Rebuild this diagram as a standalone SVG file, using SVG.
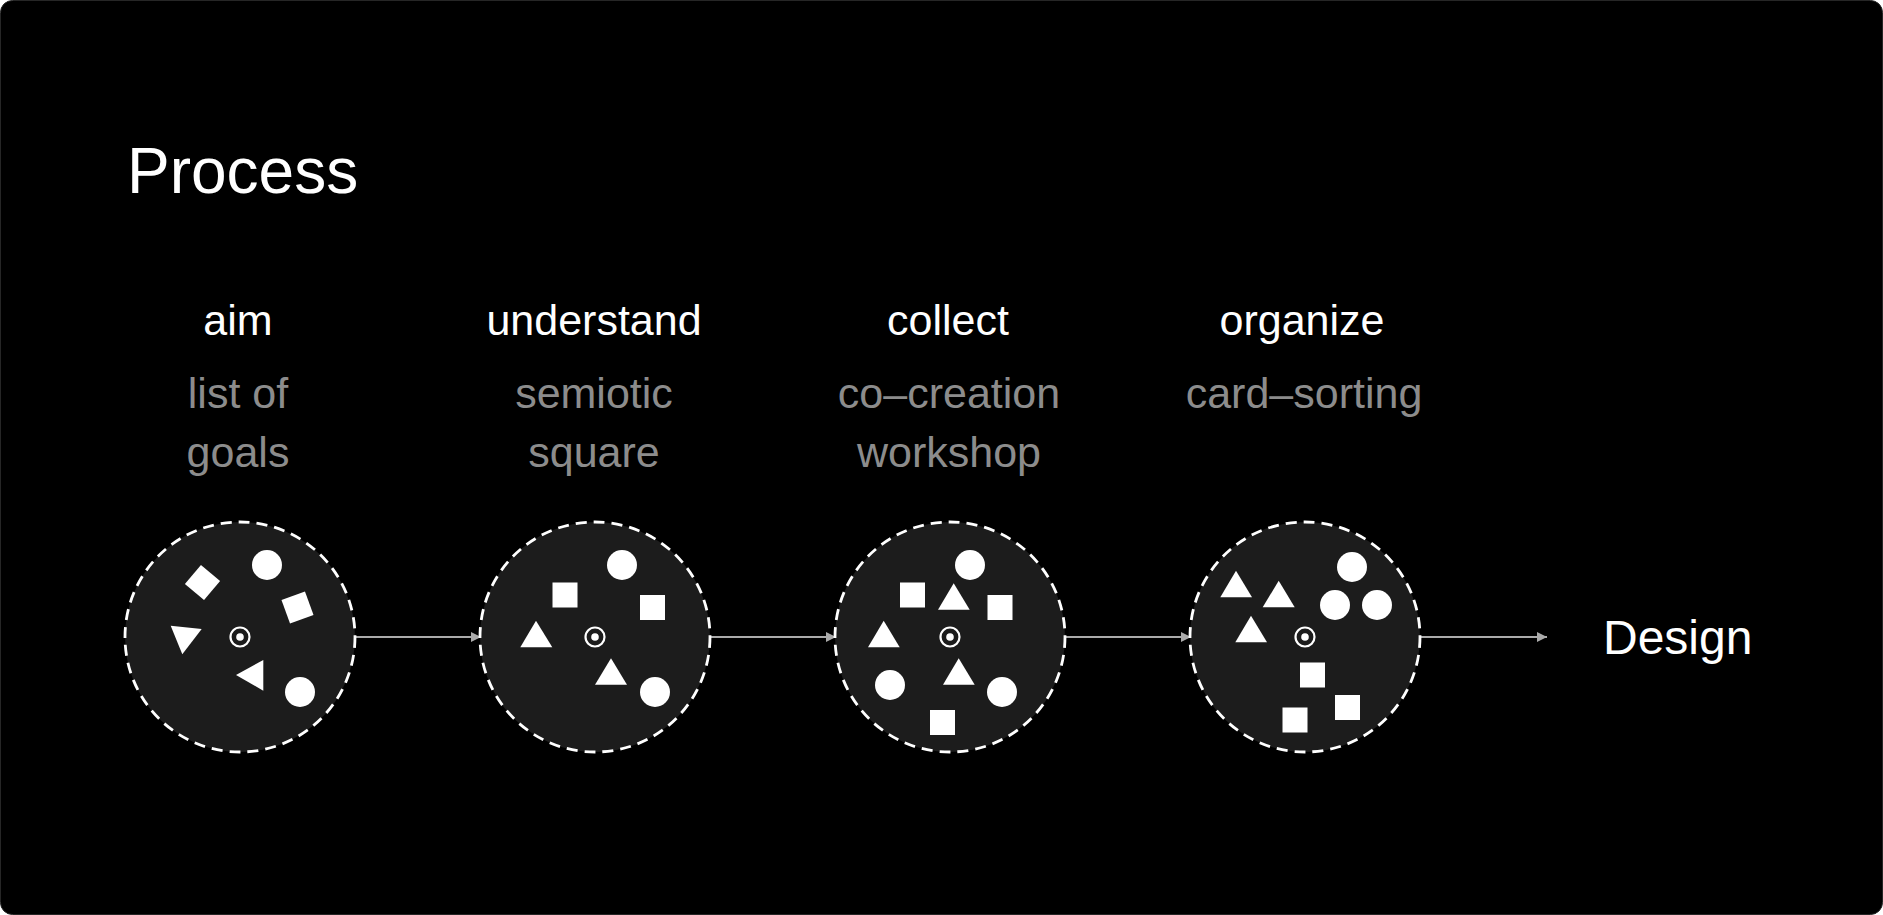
<svg xmlns="http://www.w3.org/2000/svg" width="1883" height="915" viewBox="0 0 1883 915">
<defs>
<style>
.bg{fill:#000;stroke:#262626;stroke-width:1}
.ring{fill:#1c1c1c;stroke:#fff;stroke-width:2.8;stroke-dasharray:11 7}
.s{fill:#fff}
.ctr{fill:none;stroke:#fff;stroke-width:2.2}
.in{stroke:#555;stroke-width:2;fill:none}
.out{stroke:#aaa;stroke-width:2;fill:none}
.t{font-family:"Liberation Sans",Arial,sans-serif;text-anchor:middle;font-size:43px}
.ti{fill:#fff}
.sub{fill:#8c8c8c}
</style>
<marker id="ah" markerWidth="10" markerHeight="10" refX="10" refY="5" orient="auto" markerUnits="userSpaceOnUse">
<path d="M0,0 L10,5 L0,10 Z" fill="#aaa"/>
</marker>
</defs>
<rect class="bg" x="0.5" y="0.5" width="1882" height="914" rx="12"/>
<text x="127" y="193" font-family="Liberation Sans,Arial,sans-serif" font-size="64" fill="#fff">Process</text>

<g id="connectors">
<line class="in" x1="250" y1="637" x2="355" y2="637"/>
<line class="out" x1="355" y1="637" x2="481" y2="637" marker-end="url(#ah)"/>
<line class="in" x1="605" y1="637" x2="710" y2="637"/>
<line class="out" x1="710" y1="637" x2="836" y2="637" marker-end="url(#ah)"/>
<line class="in" x1="960" y1="637" x2="1065" y2="637"/>
<line class="out" x1="1065" y1="637" x2="1191" y2="637" marker-end="url(#ah)"/>
<line class="in" x1="1315" y1="637" x2="1420" y2="637"/>
<line class="out" x1="1420" y1="637" x2="1547" y2="637" marker-end="url(#ah)"/>
</g>

<g id="aim">
<text class="t ti" x="238" y="335">aim</text>
<text class="t sub" x="238" y="408">list of</text>
<text class="t sub" x="238" y="467">goals</text>
<circle class="ring" cx="240" cy="637" r="115"/>
<rect class="s" x="190" y="570" width="25" height="25" transform="rotate(40 202.5 582.5)"/>
<circle class="s" cx="267" cy="565" r="15"/>
<rect class="s" x="285" y="595" width="25" height="25" transform="rotate(-20 297.5 607.5)"/>
<polygon class="s" points="170.7,625.7 201.7,629 182.3,654.3"/>
<polygon class="s" points="263.3,660 236,675 263.3,690.7"/>
<circle class="s" cx="300" cy="692" r="15"/>
<circle class="ctr" cx="240" cy="637" r="9.5"/>
<circle class="s" cx="240" cy="637" r="3.8"/>
</g>

<g id="understand">
<text class="t ti" x="594" y="335">understand</text>
<text class="t sub" x="594" y="408">semiotic</text>
<text class="t sub" x="594" y="467">square</text>
<circle class="ring" cx="595" cy="637" r="115"/>
<circle class="s" cx="622" cy="565" r="15"/>
<rect class="s" x="552.5" y="582.5" width="25" height="25"/>
<rect class="s" x="640" y="595" width="25" height="25"/>
<polygon class="s" points="536,620.7 552.3,647.3 520.3,647.3"/>
<polygon class="s" points="611,658.3 627,684.7 595,684.7"/>
<circle class="s" cx="655" cy="692" r="15"/>
<circle class="ctr" cx="595" cy="637" r="9.5"/>
<circle class="s" cx="595" cy="637" r="3.8"/>
</g>

<g id="collect">
<text class="t ti" x="948" y="335">collect</text>
<text class="t sub" x="949" y="408">co–creation</text>
<text class="t sub" x="949" y="467">workshop</text>
<circle class="ring" cx="950" cy="637" r="115"/>
<circle class="s" cx="970" cy="565" r="15"/>
<rect class="s" x="900" y="582.5" width="25" height="25"/>
<polygon class="s" points="953.7,583.3 969.7,609.7 938,609.7"/>
<rect class="s" x="987.5" y="595" width="25" height="25"/>
<polygon class="s" points="883.7,620.7 899.7,647.3 868,647.3"/>
<polygon class="s" points="958.7,658.3 974.7,684.7 943,684.7"/>
<circle class="s" cx="890" cy="685" r="15"/>
<circle class="s" cx="1002" cy="692" r="15"/>
<rect class="s" x="930" y="710" width="25" height="25"/>
<circle class="ctr" cx="950" cy="637" r="9.5"/>
<circle class="s" cx="950" cy="637" r="3.8"/>
</g>

<g id="organize">
<text class="t ti" x="1302" y="335">organize</text>
<text class="t sub" x="1304" y="408">card–sorting</text>
<circle class="ring" cx="1305" cy="637" r="115"/>
<polygon class="s" points="1236,570.7 1252,597.3 1220.3,597.3"/>
<polygon class="s" points="1278.7,580.7 1294.7,607.3 1262.7,607.3"/>
<polygon class="s" points="1251,615.7 1267,642.3 1235.3,642.3"/>
<circle class="s" cx="1352" cy="567" r="15"/>
<circle class="s" cx="1335" cy="605" r="15"/>
<circle class="s" cx="1377" cy="605" r="15"/>
<rect class="s" x="1300" y="662.5" width="25" height="25"/>
<rect class="s" x="1335" y="695" width="25" height="25"/>
<rect class="s" x="1282.5" y="707.5" width="25" height="25"/>
<circle class="ctr" cx="1305" cy="637" r="9.5"/>
<circle class="s" cx="1305" cy="637" r="3.8"/>
</g>

<g id="design">
<text x="1603" y="654" font-family="Liberation Sans,Arial,sans-serif" font-size="48" fill="#fff">Design</text>
</g>
</svg>
